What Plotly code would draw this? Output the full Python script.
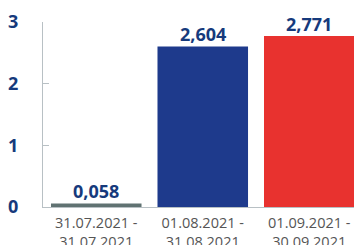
import plotly.graph_objects as go

categories = ["31.07.2021 -<br>31.07.2021", "01.08.2021 -<br>31.08.2021", "01.09.2021 -<br>30.09.2021"]
values = [0.058, 2.604, 2.771]
colors = ["#607272", "#1e3a8c", "#e8322f"]
ytick_vals = [0, 1, 2, 3]
labels = [f"{v:.3f}".replace(".", ",") for v in values]

fig = go.Figure(go.Bar(
    x=categories, y=values,
    marker=dict(color=colors, line=dict(width=0)),
    hoverinfo="skip",
))

for c, v, t in zip(categories, values, labels):
    fig.add_annotation(
        x=c, y=v, text=t, showarrow=False,
        xanchor="center", yanchor="bottom", yshift=-2,
        font=dict(family="Open Sans", size=18, color="#163a7c", weight="bold"),
    )

fig.update_layout(
    width=354, height=245,
    margin=dict(l=43, r=0, t=22, b=38, autoexpand=False),
    paper_bgcolor="white", plot_bgcolor="white",
    bargap=0.15,
    showlegend=False,
    font=dict(family="Open Sans"),
)
fig.update_xaxes(
    range=[-0.5, 2.42], automargin=False,
    showline=True, linecolor="#b8c0c4", linewidth=1,
    ticks="", showgrid=False,
    ticklabelstandoff=3,
    tickfont=dict(family="Open Sans", size=14.5, color="#555555"),
)
fig.update_yaxes(
    range=[0, 3], tickvals=ytick_vals, ticktext=[str(v) for v in ytick_vals],
    automargin=False,
    showline=True, linecolor="#b8c0c4", linewidth=1,
    ticks="inside", ticklen=6, tickcolor="#b8c0c4",
    showgrid=False, zeroline=False,
    ticklabelstandoff=20,
    tickfont=dict(family="Open Sans", size=18, color="#163a7c", weight="bold"),
)

fig.write_html("out.html", config={"displayModeBar": False},
               post_script="document.body.style.margin='0';")
